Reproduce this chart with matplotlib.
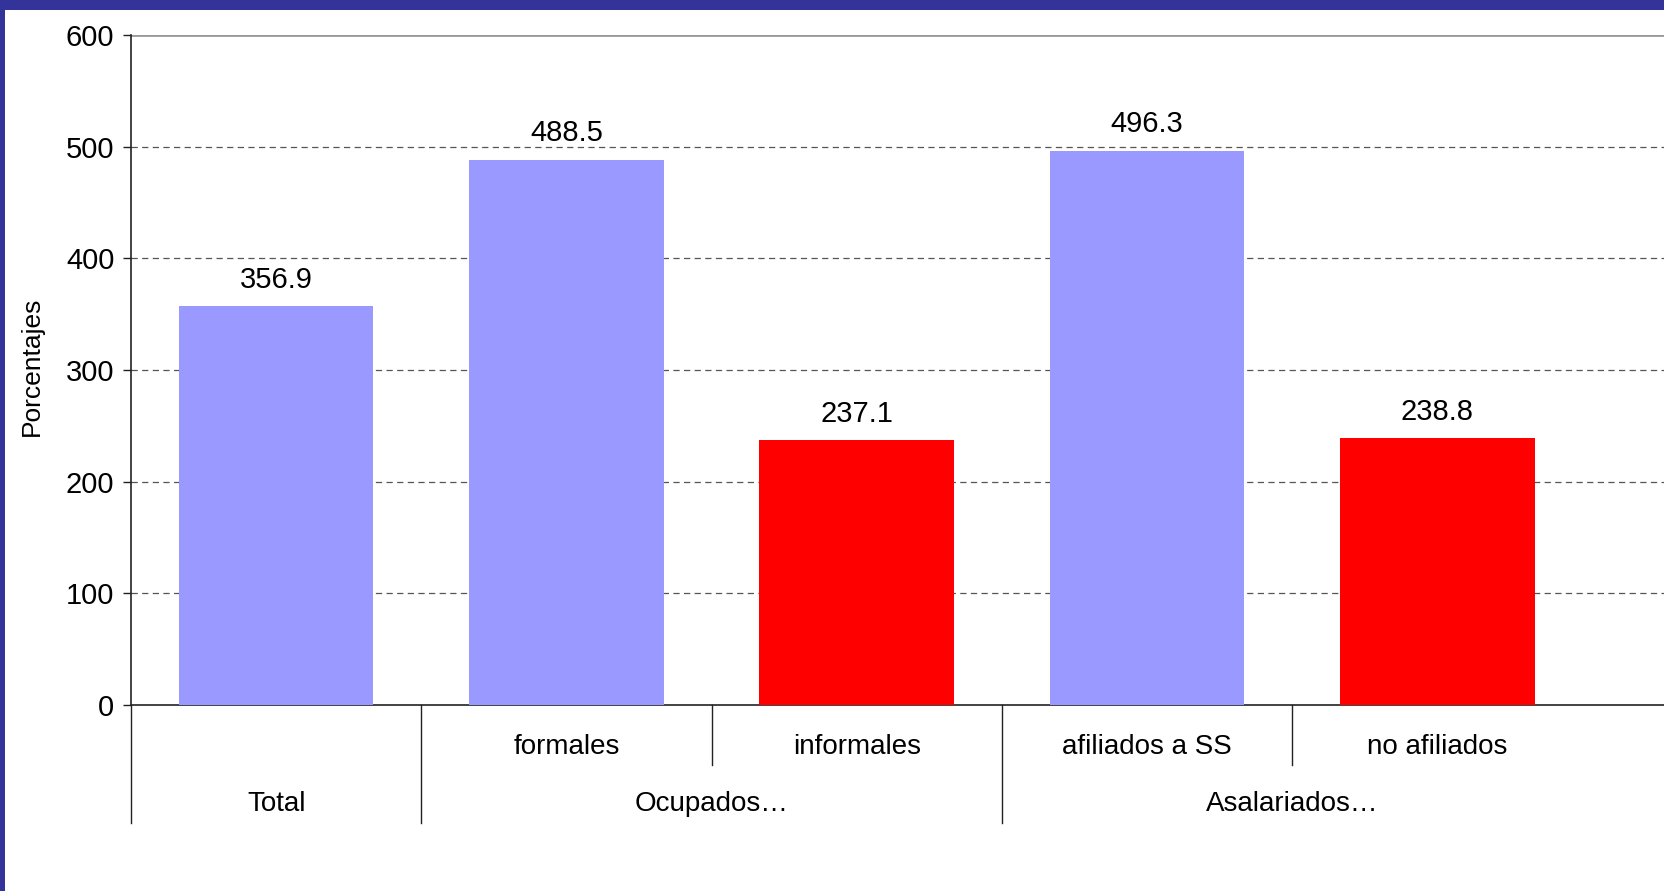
import matplotlib.pyplot as plt
from matplotlib.patches import Rectangle
from matplotlib.transforms import blended_transform_factory

# Data
sub_labels = ['', 'formales', 'informales', 'afiliados a SS', 'no afiliados']
values = [356.9, 488.5, 237.1, 496.3, 238.8]
groups = ['Total', 'Ocupados\u2026', 'Asalariados\u2026']
group_spans = [(0, 0), (1, 2), (3, 4)]
is_informal = [False, False, True, False, True]
yticks = [0, 100, 200, 300, 400, 500, 600]

plt.rcParams['font.family'] = ['Liberation Sans', 'DejaVu Sans']

W, H = 1664, 891
fig = plt.figure(figsize=(W / 100, H / 100), dpi=100, facecolor='white')

# Dark blue frame (top and left)
fig.patches.append(Rectangle((0, 1 - 10 / H), 1, 10 / H, transform=fig.transFigure,
                             facecolor='#333399', edgecolor='none', zorder=0))
fig.patches.append(Rectangle((0, 0), 5 / W, 1, transform=fig.transFigure,
                             facecolor='#333399', edgecolor='none', zorder=0))

# Plot area: left at 131px, y=0 at 705px, y=600 at 35px; category width ~290.3px
left_px, cat_px = 131, 290.3
right_px = 1700
ax_w = right_px - left_px
ax = fig.add_axes([left_px / W, 1 - 705 / H, ax_w / W, 670 / H])
ax.set_xlim(-0.5, -0.5 + ax_w / cat_px)
ax.set_ylim(0, 600)

x = list(range(len(values)))
colors = ['#FF0000' if inf else '#9999FF' for inf in is_informal]
ax.bar(x, values, width=0.67, color=colors, zorder=3)

for xi, v in zip(x, values):
    ax.annotate(f'{v:.1f}', (xi, v), xytext=(0, 9), textcoords='offset points',
                ha='center', va='bottom', fontsize=21)

# Grid lines
for t in yticks[1:-1]:
    ax.axhline(t, color='#555555', linestyle=(0, (5, 3.5)), linewidth=0.9, zorder=1)
ax.axhline(600, color='#999999', linewidth=2, zorder=1)

ax.set_yticks(yticks)
ax.tick_params(axis='y', labelsize=21, length=6, width=1, pad=6, color='#222222')
ax.set_xticks([])
ax.set_ylabel('Porcentajes', fontsize=19)
ax.yaxis.set_label_coords((44 - left_px) / ax_w, 0.505)

for s in ['top', 'right']:
    ax.spines[s].set_visible(False)
for s in ['left', 'bottom']:
    ax.spines[s].set_color('#222222')
    ax.spines[s].set_linewidth(1.2)

# Multi-level category axis
tr = blended_transform_factory(ax.transData, ax.transAxes)
y_sub_line = (705 - 765) / 670
y_grp_line = (705 - 823) / 670
y_sub_text = (705 - 747) / 670
y_grp_text = (705 - 804) / 670

for xi, lab in zip(x, sub_labels):
    ax.text(xi, y_sub_text, lab, transform=tr, ha='center', va='center', fontsize=20)

for (a, b), g in zip(group_spans, groups):
    ax.text((a + b) / 2, y_grp_text, g, transform=tr, ha='center', va='center', fontsize=20)
    ax.plot([a - 0.5, a - 0.5], [0, y_grp_line], transform=tr, color='#222222',
            linewidth=1, clip_on=False)
    for k in range(a + 1, b + 1):
        ax.plot([k - 0.5, k - 0.5], [0, y_sub_line], transform=tr, color='#222222',
                linewidth=1, clip_on=False)

fig.savefig('out.png', dpi=100, facecolor=fig.get_facecolor())
